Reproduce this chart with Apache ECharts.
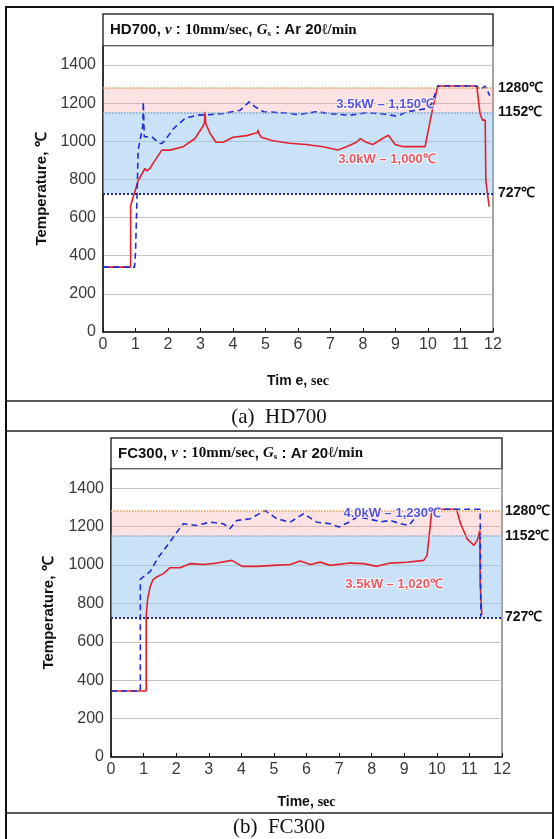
<!DOCTYPE html>
<html><head><meta charset="utf-8">
<script src="https://cdn.jsdelivr.net/npm/echarts/dist/echarts.min.js"></script>
<style>html,body{margin:0;padding:0;background:#fff}#c{width:554px;height:839px}</style>
</head><body><div id="c"></div>
<script>
// ---------- DATA ----------
const xTicks = [0,1,2,3,4,5,6,7,8,9,10,11,12];
const yTicks = [0,200,400,600,800,1000,1200,1400];
const refLines = [1280, 1152, 727];
const refLabels = ['1280\u2103', '1152\u2103', '727\u2103'];
const bandBlue = [727, 1152];
const bandPink = [1152, 1280];

// (a) HD700, 3.0 kW (red solid)
const hdTime30 = [0,0.85,0.85,0.95,1.09,1.2,1.29,1.35,1.4,1.45,1.6,1.81,2.06,2.47,2.83,3.03,3.12,3.14,3.16,3.3,3.48,3.7,4.0,4.42,4.62,4.75,4.77,4.8,4.87,5.23,5.74,6.25,6.77,7.23,7.49,7.8,7.92,8.1,8.3,8.6,8.78,8.99,9.24,9.91,10.12,10.3,11.5,11.6,11.68,11.76,11.78,11.88];
const hdTemp30 = [340,340,662,720,797,830,858,845,840,860,900,954,954,972,1015,1067,1094,1155,1094,1040,995,995,1021,1030,1040,1045,1060,1040,1021,1003,990,983,972,955,972,995,1014,995,983,1015,1032,983,972,972,1153,1290,1290,1146,1111,1111,796,657];
// (a) HD700, 3.5 kW (blue dashed)
const hdTime35 = [0,0.97,1.0,1.05,1.08,1.14,1.22,1.24,1.27,1.5,1.73,1.81,1.91,2.17,2.52,2.88,3.3,3.7,4.22,4.5,4.68,4.94,5.55,6.0,6.57,7.0,7.6,8.1,8.63,9.05,9.35,9.97,10.12,10.3,11.5,11.6,11.75,11.9];
const hdTemp35 = [340,340,414,727,954,1006,1076,1207,1024,1024,989,989,1006,1067,1120,1137,1140,1146,1163,1207,1181,1155,1150,1140,1155,1145,1137,1150,1143,1132,1155,1172,1200,1290,1290,1270,1290,1240];

// (b) FC300, 3.5 kW (red solid)
const fcTime35 = [0,1.08,1.08,1.12,1.2,1.28,1.4,1.61,1.81,2.12,2.43,2.84,3.25,3.71,4.02,4.48,4.99,5.5,5.81,6.12,6.42,6.73,7.34,7.75,8.16,8.57,9.08,9.6,9.7,9.75,9.85,10.6,10.73,10.93,11.14,11.24,11.32,11.33,11.38];
const fcTemp35 = [344,344,731,817,886,921,938,955,986,986,1007,1003,1010,1024,993,993,998,1003,1021,1003,1015,998,1010,1007,993,1010,1014,1024,1050,1128,1290,1290,1215,1136,1102,1128,1180,902,740];
// (b) FC300, 4.0 kW (blue dashed)
const fcTime40 = [0,0.9,0.9,1.0,1.2,1.46,1.77,2.02,2.22,2.63,3.04,3.45,3.65,3.86,4.27,4.73,5.09,5.5,5.91,6.32,6.73,6.99,7.3,7.55,7.9,8.3,8.57,8.88,9.14,9.4,9.7,10.67,11.1,11.33,11.35];
const fcTemp40 = [344,344,925,940,965,1042,1111,1171,1215,1206,1223,1215,1189,1232,1241,1284,1241,1223,1267,1223,1215,1198,1223,1250,1240,1225,1232,1215,1206,1258,1290,1290,1290,1290,731];

// annotations
const hdNoteBlue = {text: '3.5kW \u2013 1,150\u2103', t: 8.68, T: 1196};
const hdNoteRed  = {text: '3.0kW \u2013 1,000\u2103', t: 8.74, T: 907};
const fcNoteBlue = {text: '4.0kW \u2013 1,230\u2103', t: 8.63, T: 1271};
const fcNoteRed  = {text: '3.5kW \u2013 1,020\u2103', t: 8.69, T: 901};

// ---------- STYLE ----------
const SANS = 'Liberation Sans, Arial, sans-serif';
const SERIF = 'Liberation Serif, Times New Roman, serif';
const RED = '#e3202c', BLUE = '#1f2dd2';
const zip = (a, b) => a.map((v, i) => [v, b[i]]);

const grids = [
  {left: 103, top: 46, width: 390, height: 286},
  {left: 111, top: 469, width: 391, height: 288}
];

function xAxis(i, name, gap) {
  return {
    type: 'value', gridIndex: i, min: xTicks[0], max: xTicks[xTicks.length-1], interval: 1,
    axisLine: {show: true, onZero: false, lineStyle: {color: '#111', width: 1.5}},
    axisTick: {show: true, inside: true, length: 4, lineStyle: {color: '#111'}},
    axisLabel: {fontFamily: SANS, fontSize: 16, color: '#3a3a3a', margin: 5, formatter: v => String(v)},
    splitLine: {show: false},
    name: name, nameLocation: 'middle', nameGap: gap,
    nameTextStyle: {
      rich: {
        b: {fontFamily: SANS, fontWeight: 'bold', fontSize: 14, color: '#111'},
        s: {fontFamily: SERIF, fontWeight: 'bold', fontSize: 14, color: '#111'}
      }
    }
  };
}
function yAxis(i, gap) {
  return {
    type: 'value', gridIndex: i, min: yTicks[0], max: 1500, interval: 200,
    axisLine: {show: true, onZero: false, lineStyle: {color: '#111', width: 1.5}},
    axisTick: {show: false},
    axisLabel: {fontFamily: SANS, fontSize: 16, color: '#3a3a3a', margin: 7, showMaxLabel: false, formatter: v => String(v)},
    splitLine: {show: true, lineStyle: {color: '#c4c4c4', width: 1}},
    name: 'Temperature, \u2103', nameLocation: 'middle', nameRotate: 90, nameGap: gap,
    nameTextStyle: {fontFamily: SANS, fontWeight: 'bold', fontSize: 15, color: '#111'}
  };
}
function refSeries(i, labelDist) {
  const lineColors = ['#e39a4a', '#8c9cc0', '#1a2a9a'];
  const lineWidths = [1.5, 1.5, 2];
  return {
    type: 'line', xAxisIndex: i, yAxisIndex: i, data: [], z: 1, silent: true,
    markArea: {
      silent: true,
      data: [
        [{yAxis: bandBlue[0], itemStyle: {color: 'rgba(150,198,240,0.5)'}}, {yAxis: bandBlue[1]}],
        [{yAxis: bandPink[0], itemStyle: {color: 'rgba(245,150,150,0.28)'}}, {yAxis: bandPink[1]}]
      ]
    },
    markLine: {
      silent: true, symbol: 'none', animation: false,
      data: refLines.map((v, k) => ({
        yAxis: v,
        lineStyle: {color: lineColors[k], type: 'dotted', width: lineWidths[k]},
        label: {show: true, position: 'end', distance: labelDist, formatter: refLabels[k],
                fontFamily: SANS, fontWeight: 'bold', fontSize: 14, color: '#111'}
      }))
    }
  };
}
function lineSeries(i, data, color, dashed) {
  return {
    type: 'line', xAxisIndex: i, yAxisIndex: i, data: data, z: dashed ? 4 : 3,
    showSymbol: false, symbol: 'none', silent: true,
    lineStyle: {color: color, width: 1.6, type: dashed ? [6, 4] : 'solid'}
  };
}
function noteSeries(i, note, color) {
  return {
    type: 'scatter', xAxisIndex: i, yAxisIndex: i, z: 6, symbolSize: 0, silent: true,
    data: [[note.t, note.T]],
    label: {show: true, position: 'inside', formatter: note.text,
            fontFamily: SANS, fontWeight: 'bold', fontSize: 13, color: color,
            textBorderColor: '#fff', textBorderWidth: 2}
  };
}

function titleBox(x, y, w, h, label) {
  return {
    type: 'group', children: [
      {type: 'rect', shape: {x: x, y: y, width: w, height: h},
       style: {fill: '#fff', stroke: '#333', lineWidth: 1.5}},
      {type: 'text', x: x + 7, y: y + h / 2,
       style: {
         text: '{a|' + label + ', }{i|v}{a| : }{t|10mm/sec}{a|, }{i|G}{sub|s}{a| : Ar 20}{t|\u2113/min}',
         verticalAlign: 'middle',
         rich: {
           a: {fontFamily: SANS, fontWeight: 'bold', fontSize: 15, fill: '#111'},
           i: {fontFamily: SERIF, fontStyle: 'italic', fontWeight: 'bold', fontSize: 15, fill: '#111'},
           t: {fontFamily: SERIF, fontWeight: 'bold', fontSize: 15, fill: '#111'},
           sub: {fontFamily: SERIF, fontWeight: 'bold', fontSize: 9, fill: '#111', padding: [7, 0, 0, 0]}
         }
       }}
    ]
  };
}

const chart = echarts.init(document.getElementById('c'), null, {renderer: 'canvas'});
chart.setOption({
  animation: false,
  backgroundColor: '#fff',
  grid: grids.map(g => Object.assign({show: true, borderColor: '#444', borderWidth: 1, backgroundColor: 'transparent'}, g)),
  xAxis: [xAxis(0, '{b|Tim e, }{s|sec}', 42), xAxis(1, '{b|Time, }{s|sec}', 38)],
  yAxis: [yAxis(0, 50), yAxis(1, 55)],
  series: [
    refSeries(0, 5),
    lineSeries(0, zip(hdTime30, hdTemp30), RED, false),
    lineSeries(0, zip(hdTime35, hdTemp35), BLUE, true),
    noteSeries(0, hdNoteBlue, '#2a2ad8'),
    noteSeries(0, hdNoteRed, '#e8303a'),
    refSeries(1, 3),
    lineSeries(1, zip(fcTime35, fcTemp35), RED, false),
    lineSeries(1, zip(fcTime40, fcTemp40), BLUE, true),
    noteSeries(1, fcNoteBlue, '#2a2ad8'),
    noteSeries(1, fcNoteRed, '#e8303a')
  ],
  graphic: [
    {type: 'rect', shape: {x: 6, y: 7, width: 547, height: 840}, style: {fill: 'none', stroke: '#111', lineWidth: 2}, silent: true},
    {type: 'line', shape: {x1: 6, y1: 401, x2: 553, y2: 401}, style: {stroke: '#222', lineWidth: 1.5}},
    {type: 'line', shape: {x1: 6, y1: 431, x2: 553, y2: 431}, style: {stroke: '#222', lineWidth: 1.5}},
    {type: 'line', shape: {x1: 6, y1: 813, x2: 553, y2: 813}, style: {stroke: '#222', lineWidth: 1.5}},
    titleBox(103, 14, 390, 32, 'HD700'),
    titleBox(111, 438, 391, 31, 'FC300'),
    {type: 'text', x: 279, y: 417, style: {text: '(a)  HD700', fontFamily: SERIF, fontSize: 21, fill: '#111', align: 'center', verticalAlign: 'middle'}},
    {type: 'text', x: 279, y: 827, style: {text: '(b)  FC300', fontFamily: SERIF, fontSize: 21, fill: '#111', align: 'center', verticalAlign: 'middle'}}
  ]
});
</script>
</body></html>
